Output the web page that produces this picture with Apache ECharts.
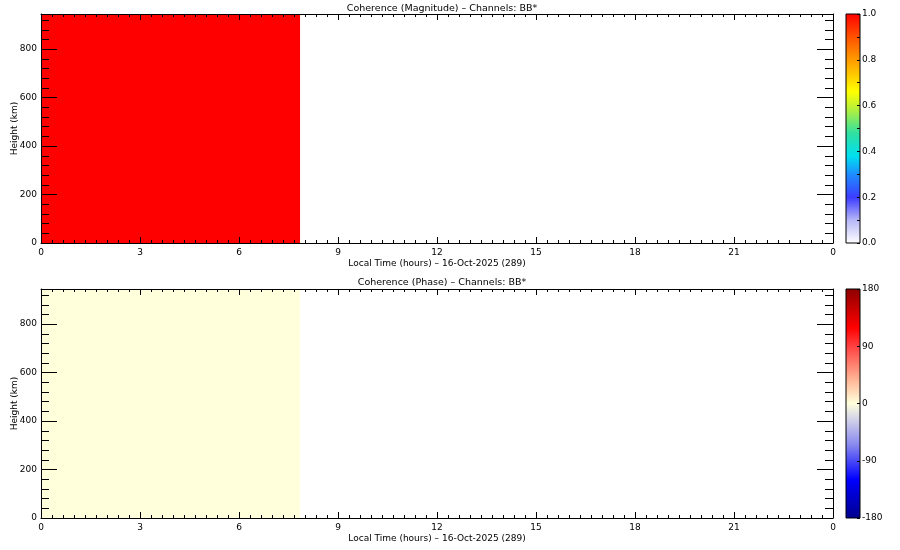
<!DOCTYPE html>
<html>
<head>
<meta charset="utf-8">
<script src="https://cdn.jsdelivr.net/npm/echarts@6/dist/echarts.min.js"></script>
<style>html,body{margin:0;padding:0;background:#fff}#c{width:900px;height:550px}</style>
</head>
<body>
<div id="c"></div>
<script>
// ---- data ----
const timeStart = [0];          // hours
const timeEnd = [7.85];         // hours
const heightStart = [0];        // km
const heightEnd = [945];        // km
const magnitudeValues = [1.0];
const phaseValues = [0];
const xTickLabels = ['0','3','6','9','12','15','18','21','0'];
const magTickLabels = ['0.0','0.2','0.4','0.6','0.8','1.0'];
const phaseTickLabels = ['-180','-90','0','90','180'];
const titleMag = 'Coherence (Magnitude) \u2013 Channels: BB*';
const titlePhase = 'Coherence (Phase) \u2013 Channels: BB*';
const xName = 'Local Time (hours) \u2013 16-Oct-2025 (289)';
const yName = 'Height (km)';

// ---- styling ----
const FONT = 'DejaVu Sans';
const magStops = [
  [0.00,'#ffffff'],[0.10,'#b8b8f8'],[0.20,'#3c3cff'],[0.30,'#1e8cff'],
  [0.38,'#00e0f0'],[0.48,'#30e0a0'],[0.58,'#b0f040'],[0.66,'#ffff00'],
  [0.80,'#ff9a00'],[0.90,'#ff5000'],[1.00,'#ff0000']
];
const phaseStops = [
  [0.00,'#00008c'],[0.17,'#0000ff'],[0.32,'#8888f0'],[0.44,'#d8d8e8'],
  [0.50,'#ffffdc'],[0.60,'#ffb898'],[0.75,'#ff4040'],[0.83,'#ff0000'],[1.00,'#8c0000']
];
function colorAt(stops, t){
  for (let i=1;i<stops.length;i++){
    if (t<=stops[i][0]){
      const a=stops[i-1], b=stops[i];
      const f=(t-a[0])/(b[0]-a[0]||1);
      const ca=parseInt(a[1].slice(1),16), cb=parseInt(b[1].slice(1),16);
      const ch=s=>Math.round(((ca>>s)&255)*(1-f)+((cb>>s)&255)*f);
      return 'rgb('+ch(16)+','+ch(8)+','+ch(0)+')';
    }
  }
  return stops[stops.length-1][1];
}
const magColors = [], phaseColors = [];
for (let i=0;i<=40;i++){ magColors.push(colorAt(magStops,i/40)); phaseColors.push(colorAt(phaseStops,i/40)); }

const magData = timeStart.map((t,i)=>[t,timeEnd[i],heightStart[i],heightEnd[i],magnitudeValues[i]]);
const phaseData = timeStart.map((t,i)=>[t,timeEnd[i],heightStart[i],heightEnd[i],phaseValues[i]]);

const L=41, W=792, TOPS=[14,289], H=229, CBX=846, CBW=14;
const YMAX=945;

function cellRender(params, api){
  const p0 = api.coord([api.value(0), api.value(3)]);
  const p1 = api.coord([api.value(1), api.value(2)]);
  const cs = params.coordSys;
  const x0=Math.max(p0[0],cs.x), x1=Math.min(p1[0],cs.x+cs.width);
  const y0=Math.max(p0[1],cs.y), y1=Math.min(p1[1],cs.y+cs.height);
  return {type:'rect', shape:{x:x0,y:y0,width:x1-x0,height:y1-y0}, style:{fill:api.visual('color')}};
}
function cbRender(stops){
  return function(params, api){
    const cs = params.coordSys;
    return {type:'rect', shape:{x:cs.x,y:cs.y,width:cs.width,height:cs.height},
      style:{fill:new echarts.graphic.LinearGradient(0,1,0,0, stops.map(s=>({offset:s[0],color:s[1]}))),
             stroke:'#000', lineWidth:1}};
  };
}

const grids=[], xAxes=[], yAxes=[], series=[];
const lbl = {fontFamily:FONT, fontSize:9, color:'#000'};
const line = {show:true, onZero:false, lineStyle:{color:'#000',width:1}};
TOPS.forEach((top,k)=>{
  grids.push({left:L, top:top, width:W, height:H, containLabel:false, outerBoundsMode:'none'});
  grids.push({left:CBX, top:top, width:CBW, height:H, containLabel:false, outerBoundsMode:'none'});
  const g = k*2, gc = k*2+1;
  // main x bottom
  xAxes.push({gridIndex:g, type:'value', min:0, max:24, interval:3, position:'bottom', z:5,
    axisLine:line, splitLine:{show:false},
    axisTick:{inside:true,length:6,lineStyle:{color:'#000'}},
    minorTick:{show:true,splitNumber:9,length:3,lineStyle:{color:'#000'}},
    axisLabel:Object.assign({margin:5, showMinLabel:true, showMaxLabel:true, formatter:(v)=>xTickLabels[Math.round(v/3)]},lbl),
    name:xName, nameLocation:'middle', nameGap:16, nameTextStyle:lbl});
  // main x top (mirror)
  xAxes.push({gridIndex:g, type:'value', min:0, max:24, interval:3, position:'top', z:5,
    axisLine:line, splitLine:{show:false},
    axisTick:{inside:true,length:6,lineStyle:{color:'#000'}},
    minorTick:{show:true,splitNumber:9,length:3,lineStyle:{color:'#000'}},
    axisLabel:{show:false}});
  // colorbar x
  xAxes.push({gridIndex:gc, type:'value', min:0, max:1, show:false});
  // main y left
  yAxes.push({gridIndex:g, type:'value', min:0, max:YMAX, interval:200, position:'left', z:5,
    axisLine:line, splitLine:{show:false},
    axisTick:{show:true,inside:true,length:16,lineStyle:{color:'#000'}},
    minorTick:{show:true,splitNumber:5,length:8,lineStyle:{color:'#000'}},
    axisLabel:Object.assign({margin:4, showMaxLabel:false},lbl),
    name:yName, nameLocation:'middle', nameGap:22, nameMoveOverlap:false, nameTextStyle:lbl});
  // main y right (mirror)
  yAxes.push({gridIndex:g, type:'value', min:0, max:YMAX, interval:200, position:'right', z:5,
    axisLine:line, splitLine:{show:false},
    axisTick:{show:true,inside:true,length:16,lineStyle:{color:'#000'}},
    minorTick:{show:true,splitNumber:5,length:8,lineStyle:{color:'#000'}},
    axisLabel:{show:false}});
  // colorbar y
  if (k===0){
    yAxes.push({gridIndex:gc, type:'value', min:0, max:1, interval:0.2, position:'right', z:5,
      axisLine:{show:false,onZero:false}, splitLine:{show:false},
      axisTick:{show:true,inside:true,length:3,lineStyle:{color:'#000'}},
      minorTick:{show:true,splitNumber:2,length:3,lineStyle:{color:'#000'}},
      axisLabel:Object.assign({margin:2, formatter:(v)=>magTickLabels[Math.round(v/0.2)]},lbl)});
  } else {
    yAxes.push({gridIndex:gc, type:'value', min:-180, max:180, interval:90, position:'right', z:5,
      axisLine:{show:false,onZero:false}, splitLine:{show:false},
      axisTick:{show:true,inside:true,length:3,lineStyle:{color:'#000'}},
      axisLabel:Object.assign({margin:2, formatter:(v)=>phaseTickLabels[Math.round((v+180)/90)]},lbl)});
  }
  const xi = k*3, yi = k*3;
  series.push({type:'custom', xAxisIndex:xi, yAxisIndex:yi, renderItem:cellRender,
    data: k===0?magData:phaseData, encode:{x:[0,1], y:[2,3]}, z:1, silent:true});
  series.push({type:'custom', xAxisIndex:xi+2, yAxisIndex:yi+2, renderItem:cbRender(k===0?magStops:phaseStops),
    data:[[0,0]], z:1, silent:true});
});

const tStyle = {fontFamily:FONT,fontSize:9.5,fontWeight:'normal',color:'#000'};
const option = {
  animation:false,
  backgroundColor:'#fff',
  title:[
    {text:titleMag, left:437, top:-1, textAlign:'center', textStyle:tStyle},
    {text:titlePhase, left:437, top:273, textAlign:'center', textStyle:tStyle}
  ],
  grid:grids, xAxis:xAxes, yAxis:yAxes, series:series,
  visualMap:[
    {type:'continuous', show:false, seriesIndex:0, dimension:4, min:0, max:1, inRange:{color:magColors}},
    {type:'continuous', show:false, seriesIndex:2, dimension:4, min:-180, max:180, inRange:{color:phaseColors}}
  ]
};
const chart = echarts.init(document.getElementById('c'), null, {renderer:'canvas'});
chart.setOption(option);
</script>
</body>
</html>
